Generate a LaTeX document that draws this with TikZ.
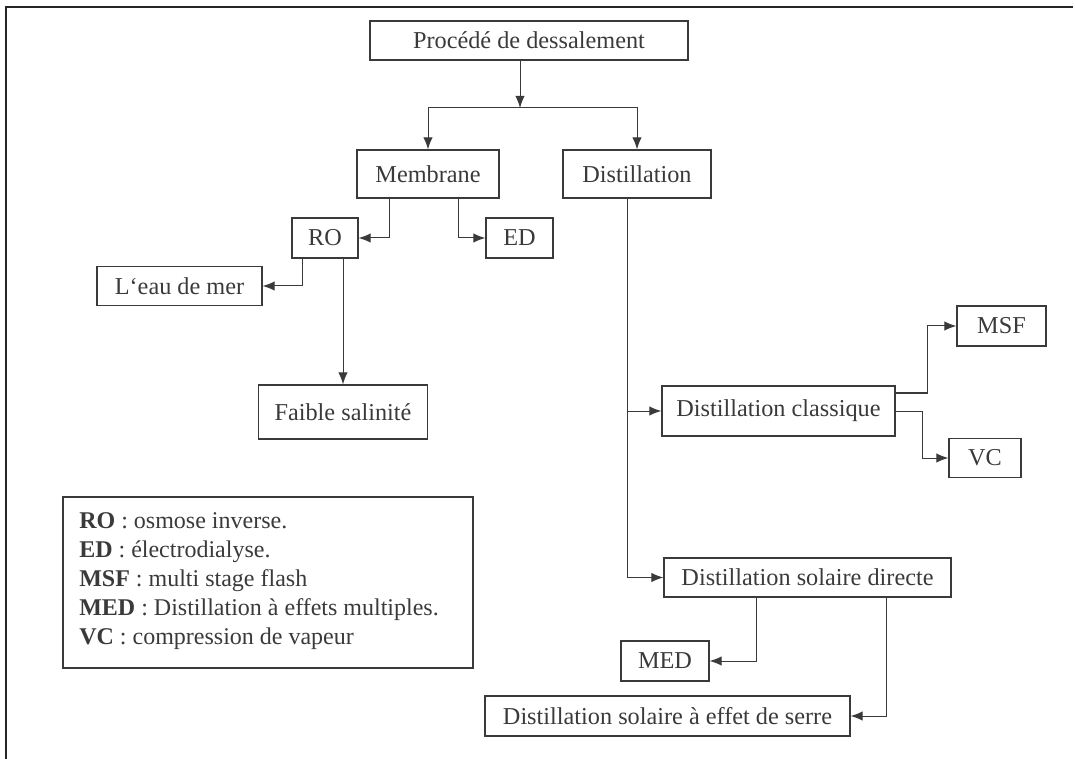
\documentclass[tikz,border=0pt]{standalone}
\usepackage{fontspec}
\setmainfont{Liberation Serif}
\usetikzlibrary{arrows.meta,calc}
\definecolor{ink}{HTML}{3A3A3A}
\tikzset{
  box/.style={draw=ink, line width=0.9pt, text=ink, inner sep=0pt, anchor=center,
    font=\fontsize{18.2pt}{21pt}\selectfont},
  arr/.style={draw=ink, line width=0.75pt, -{Latex[length=9pt,width=7pt]}},
  ln/.style={draw=ink, line width=0.75pt},
  legtxt/.style={text=ink, inner sep=0pt, anchor=base west, font=\fontsize{18pt}{21pt}\selectfont},
  frame/.style={draw=black!85, line width=1.1pt}
}
\begin{document}
\begin{tikzpicture}[x=0.75pt,y=-0.75pt]
\useasboundingbox (0,0) rectangle (1075,759);
% outer frame (top and left only)
\coordinate (f1) at (6,759);
\coordinate (f2) at (6,7);
\coordinate (f3) at (1073,7);
\draw[frame] (f1) -- (f2) -- (f3);

% boxes
\node[box, minimum width=318*0.75pt, minimum height=39*0.75pt] (top) at (529,40.5) {Procédé de dessalement};
\node[box, minimum width=142*0.75pt, minimum height=48*0.75pt] (mem) at (428,174) {Membrane};
\node[box, minimum width=148*0.75pt, minimum height=48*0.75pt] (dist) at (637,174) {Distillation};
\node[box, minimum width=66*0.75pt, minimum height=40*0.75pt] (ro) at (325,238) {RO};
\node[box, minimum width=67*0.75pt, minimum height=40*0.75pt] (ed) at (519.5,238) {ED};
\node[box, minimum width=165*0.75pt, minimum height=39*0.75pt] (eau) at (179.5,286) {L`eau de mer};
\node[box, minimum width=169*0.75pt, minimum height=54*0.75pt] (faible) at (343,412) {Faible salinité};
\node[box, minimum width=233*0.75pt, minimum height=50*0.75pt] (dc) at (778.5,411) {Distillation classique};
\node[box, minimum width=89*0.75pt, minimum height=40*0.75pt] (msf) at (1001.5,326) {MSF};
\node[box, minimum width=72*0.75pt, minimum height=39*0.75pt] (vc) at (985,458) {VC};
\node[box, minimum width=287*0.75pt, minimum height=39*0.75pt] (dsd) at (807.5,577.5) {Distillation solaire directe};
\node[box, minimum width=88*0.75pt, minimum height=40*0.75pt] (med) at (665,661) {MED};
\node[box, minimum width=365*0.75pt, minimum height=40*0.75pt] (serre) at (667.5,716) {Distillation solaire à effet de serre};

% legend
\node[draw=ink, line width=0.9pt, minimum width=410*0.75pt, minimum height=171*0.75pt, inner sep=0pt] (leg) at (268,582.5) {};
\node[legtxt] (l1) at (79,528) {\textbf{RO} : osmose inverse.};
\node[legtxt] (l2) at (79,557) {\textbf{ED} : électrodialyse.};
\node[legtxt] (l3) at (79,586) {\textbf{MSF} : multi stage flash};
\node[legtxt] (l4) at (79,615) {\textbf{MED} : Distillation à effets multiples.};
\node[legtxt] (l5) at (79,644) {\textbf{VC} : compression de vapeur};

% connectors
\coordinate (split) at (520,108);
\draw[arr] ($(top.south)+(-9,0)$) -- (split);
\draw[arr] (split) -| (mem.north);
\draw[arr] (split) -| (dist.north);

\draw[arr] ($(mem.south west)+(33,0)$) |- (ro.east);
\draw[arr] ($(mem.south west)+(102,0)$) |- (ed.west);

\draw[arr] ($(ro.south west)+(11,0)$) |- (eau.east);
\draw[arr] (ro.south -| faible.north) -- (faible.north);

\draw[arr] ($(dist.south)+(-10,0)$) |- (dc.west);
\draw[arr] ($(dist.south)+(-10,0)$) |- (dsd.west);

\draw[arr] ($(dc.east)+(0,-18)$) -- ++(32,0) |- (msf.west);
\draw[arr] (dc.east) -- ++(27,0) |- (vc.west);

\draw[arr] ($(dsd.south west)+(93,0)$) |- (med.east);
\draw[arr] ($(dsd.south west)+(223,0)$) |- (serre.east);
\end{tikzpicture}
\end{document}
